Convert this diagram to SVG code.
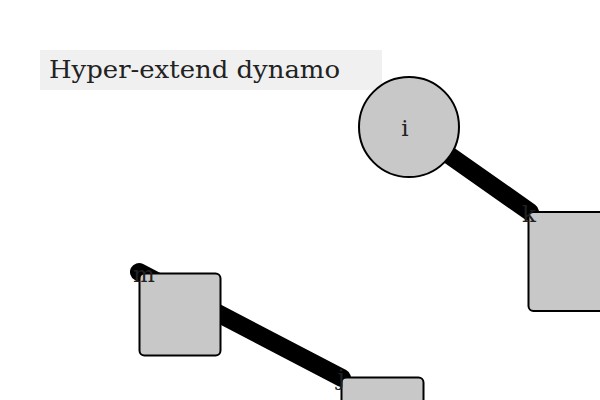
<svg xmlns="http://www.w3.org/2000/svg" width="600" height="400" viewBox="0 0 600 400">
<style>
.node{fill:#c8c8c8;stroke:#000;stroke-width:2}
.lbl{font-family:"DejaVu Serif","Liberation Serif",serif;font-size:23px;fill:#222}
.edge{stroke:#000;stroke-width:18;stroke-linecap:round;fill:none}
</style>
<rect width="600" height="400" fill="#fff"/>
<g id="title">
<rect x="40" y="50" width="342" height="40" fill="#f0f0f0"/>
<text x="49" y="78" textLength="291" lengthAdjust="spacingAndGlyphs" style="font-family:'DejaVu Serif','Liberation Serif',serif;font-size:24px;fill:#222">Hyper-extend dynamo</text>
</g>
<g id="connectors">
<line class="edge" x1="409" y1="127" x2="530" y2="212"/>
<line class="edge" x1="139" y1="272" x2="342" y2="378"/>
</g>
<g id="node-i">
<circle class="node" cx="409" cy="127" r="50"/>
<text class="lbl" x="405" y="136" text-anchor="middle">i</text>
</g>
<g id="node-k">
<rect class="node" x="528.5" y="212" width="100" height="99" rx="5"/>
<text class="lbl" x="529" y="222" text-anchor="middle">k</text>
</g>
<g id="node-m">
<rect class="node" x="139.5" y="273.5" width="81" height="82" rx="5"/>
<text class="lbl" x="144" y="282" text-anchor="middle">m</text>
</g>
<g id="node-j">
<rect class="node" x="341.5" y="377.5" width="82" height="82" rx="5"/>
<text class="lbl" x="341" y="385" text-anchor="middle">j</text>
</g>
</svg>
